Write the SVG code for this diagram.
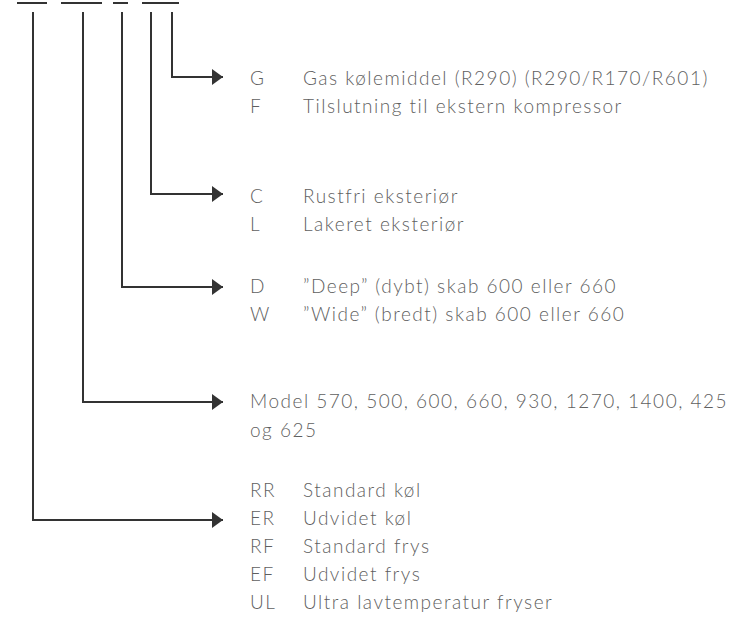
<svg xmlns="http://www.w3.org/2000/svg" width="738" height="617" viewBox="0 0 738 617">
<defs>
<style>
.ln{stroke:#333;stroke-width:2;fill:none}
.t{font-family:Lato,"Liberation Sans",sans-serif;font-weight:300;font-size:19px;fill:#5f5f5f;letter-spacing:1.5px}
</style>
<marker id="ah" viewBox="0 0 11 16" refX="11" refY="8" markerWidth="11" markerHeight="16" markerUnits="userSpaceOnUse" orient="auto">
<path d="M0,0 L11,8 L0,16 Z" fill="#333"/>
</marker>
</defs>
<rect width="738" height="617" fill="#fff"/>
<g id="bars">
<line class="ln" x1="17" y1="3" x2="47" y2="3"/>
<line class="ln" x1="61" y1="3" x2="102" y2="3"/>
<line class="ln" x1="113" y1="3" x2="128" y2="3"/>
<line class="ln" x1="142" y1="3" x2="179" y2="3"/>
</g>
<g id="connectors">
<polyline class="ln" points="172,12 172,77 223,77" marker-end="url(#ah)"/>
<polyline class="ln" points="151,12 151,194 223,194" marker-end="url(#ah)"/>
<polyline class="ln" points="122,12 122,287 223,287" marker-end="url(#ah)"/>
<polyline class="ln" points="83,12 83,402 223,402" marker-end="url(#ah)"/>
<polyline class="ln" points="33,12 33,520 223,520" marker-end="url(#ah)"/>
</g>
<g id="node-gas">
<text class="t" x="250" y="85">G</text><text class="t" x="303" y="85">Gas kølemiddel (R290) (R290/R170/R601)</text>
<text class="t" x="250" y="113">F</text><text class="t" x="303" y="113">Tilslutning til ekstern kompressor</text>
</g>
<g id="node-exterior">
<text class="t" x="250" y="203">C</text><text class="t" x="303" y="203">Rustfri eksteriør</text>
<text class="t" x="250" y="231">L</text><text class="t" x="303" y="231">Lakeret eksteriør</text>
</g>
<g id="node-cabinet">
<text class="t" x="250" y="293">D</text><text class="t" x="303" y="293">”Deep” (dybt) skab 600 eller 660</text>
<text class="t" x="250" y="321">W</text><text class="t" x="303" y="321">”Wide” (bredt) skab 600 eller 660</text>
</g>
<g id="node-model">
<text class="t" x="250" y="408">Model 570, 500, 600, 660, 930, 1270, 1400, 425</text>
<text class="t" x="250" y="437">og 625</text>
</g>
<g id="node-type">
<text class="t" x="250" y="497">RR</text><text class="t" x="303" y="497">Standard køl</text>
<text class="t" x="250" y="525">ER</text><text class="t" x="303" y="525">Udvidet køl</text>
<text class="t" x="250" y="553">RF</text><text class="t" x="303" y="553">Standard frys</text>
<text class="t" x="250" y="581">EF</text><text class="t" x="303" y="581">Udvidet frys</text>
<text class="t" x="250" y="609">UL</text><text class="t" x="303" y="609">Ultra lavtemperatur fryser</text>
</g>
</svg>
